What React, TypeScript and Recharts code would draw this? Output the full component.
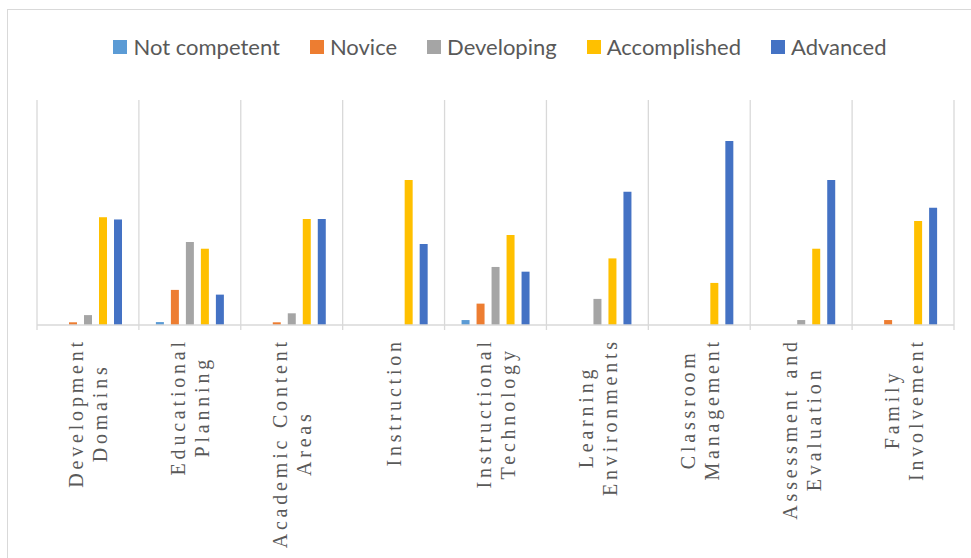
import { BarChart, Bar, XAxis, YAxis, CartesianGrid } from "recharts";

const categories = [
  "Development Domains",
  "Educational Planning",
  "Academic Content Areas",
  "Instruction",
  "Instructional Technology",
  "Learning Environments",
  "Classroom Management",
  "Assessment and Evaluation",
  "Family Involvement",
];

// how the axis labels wrap in the original
const tickLines = [
  ["Development", "Domains"],
  ["Educational", "Planning"],
  ["Academic Content", "Areas"],
  ["Instruction"],
  ["Instructional", "Technology"],
  ["Learning", "Environments"],
  ["Classroom", "Management"],
  ["Assessment and", "Evaluation"],
  ["Family", "Involvement"],
];

const notCompetent = [0, 1.3, 0, 0, 2.2, 0, 0, 0, 0];
const novice = [1.2, 15.6, 1.2, 0, 9.5, 0, 0, 0, 2.2];
const developing = [4.4, 36.9, 5.2, 0, 25.8, 11.6, 0, 2.2, 0];
const accomplished = [47.9, 33.9, 47.1, 64.4, 40, 29.6, 18.7, 33.9, 46.2];
const advanced = [46.9, 13.5, 47.1, 36, 23.7, 59.2, 81.8, 64.4, 52.1];

const series = [
  { key: "notCompetent", name: "Not competent", color: "#5B9BD5", values: notCompetent },
  { key: "novice", name: "Novice", color: "#ED7D31", values: novice },
  { key: "developing", name: "Developing", color: "#A5A5A5", values: developing },
  { key: "accomplished", name: "Accomplished", color: "#FFC000", values: accomplished },
  { key: "advanced", name: "Advanced", color: "#4472C4", values: advanced },
];

const data = categories.map((name, i) => {
  const row: Record<string, number | string> = { name };
  series.forEach((s) => (row[s.key] = s.values[i]));
  return row;
});

const GRID = "#d9d9d9";
const TEXT = "#595959";
const LABEL_SIZE = 20;
const LABEL_SPACING = 3.8;
const LINE_PITCH = 24;

let ctx: CanvasRenderingContext2D | null = null;
const textWidth = (s: string) => {
  if (!ctx) ctx = document.createElement("canvas").getContext("2d");
  if (!ctx) return s.length * 10;
  ctx.font = `${LABEL_SIZE}px "Liberation Serif"`;
  return ctx.measureText(s).width + LABEL_SPACING * (s.length - 1);
};

const CategoryTick = (props: any) => {
  const { x, y, payload, index } = props;
  const half = payload.offset ?? 0;
  const axisY = y - 5;
  const lines = tickLines[payload.index ?? index] || [String(payload.value)];
  const longest = Math.max(...lines.map(textWidth));
  const n = lines.length;
  return (
    <g>
      <line x1={x - half} x2={x - half} y1={axisY} y2={axisY + 5} stroke={GRID} strokeWidth={1.3} />
      {index === categories.length - 1 && (
        <line x1={x + half} x2={x + half} y1={axisY} y2={axisY + 5} stroke={GRID} strokeWidth={1.3} />
      )}
      <g transform={`translate(${x},${axisY + 15}) rotate(-90)`}>
        {lines.map((ln, i) => (
          <text
            key={i}
            x={-longest / 2}
            y={7.5 + (i - (n - 1) / 2) * LINE_PITCH}
            textAnchor="middle"
            fill={TEXT}
            fontSize={LABEL_SIZE}
            fontFamily='"Liberation Serif", serif'
            letterSpacing={LABEL_SPACING}
          >
            {ln}
          </text>
        ))}
      </g>
    </g>
  );
};

export default function App() {
  return (
    <div
      style={{
        position: "absolute",
        left: 0,
        top: 0,
        width: 971,
        height: 558,
        overflow: "hidden",
        background: "#fff",
      }}
    >
      <div
        style={{
          position: "absolute",
          left: 7,
          top: 9,
          width: 990,
          height: 600,
          border: `1px solid ${GRID}`,
        }}
      />
      <div
        style={{
          position: "absolute",
          left: 0,
          top: 33,
          width: 1000,
          display: "flex",
          justifyContent: "center",
          gap: 30,
          fontFamily: "Lato, sans-serif",
          fontSize: 22,
          color: TEXT,
          lineHeight: "28px",
        }}
      >
        {series.map((s) => (
          <div key={s.key} style={{ display: "flex", alignItems: "center", gap: 6 }}>
            <span style={{ width: 14, height: 14, background: s.color, display: "inline-block" }} />
            <span>{s.name}</span>
          </div>
        ))}
      </div>
      <div style={{ position: "absolute", left: 0, top: 0 }}>
        <BarChart
          width={971}
          height={558}
          data={data}
          margin={{ top: 100, right: 17, left: 37, bottom: 33 }}
          barSize={8}
          barGap={7}
        >
          <CartesianGrid
            horizontal={false}
            stroke={GRID}
            strokeWidth={1.3}
            verticalCoordinatesGenerator={({ offset }: any) =>
              Array.from({ length: categories.length + 1 }, (_, i) => offset.left + (i * offset.width) / categories.length)
            }
          />
          <XAxis
            dataKey="name"
            interval={0}
            height={200}
            tickSize={5}
            tickMargin={0}
            tickLine={false}
            axisLine={{ stroke: GRID, strokeWidth: 1.3 }}
            tick={<CategoryTick />}
          />
          <YAxis hide domain={[0, 100]} />
          {series.map((s) => (
            <Bar key={s.key} dataKey={s.key} name={s.name} fill={s.color} isAnimationActive={false} />
          ))}
        </BarChart>
      </div>
    </div>
  );
}
